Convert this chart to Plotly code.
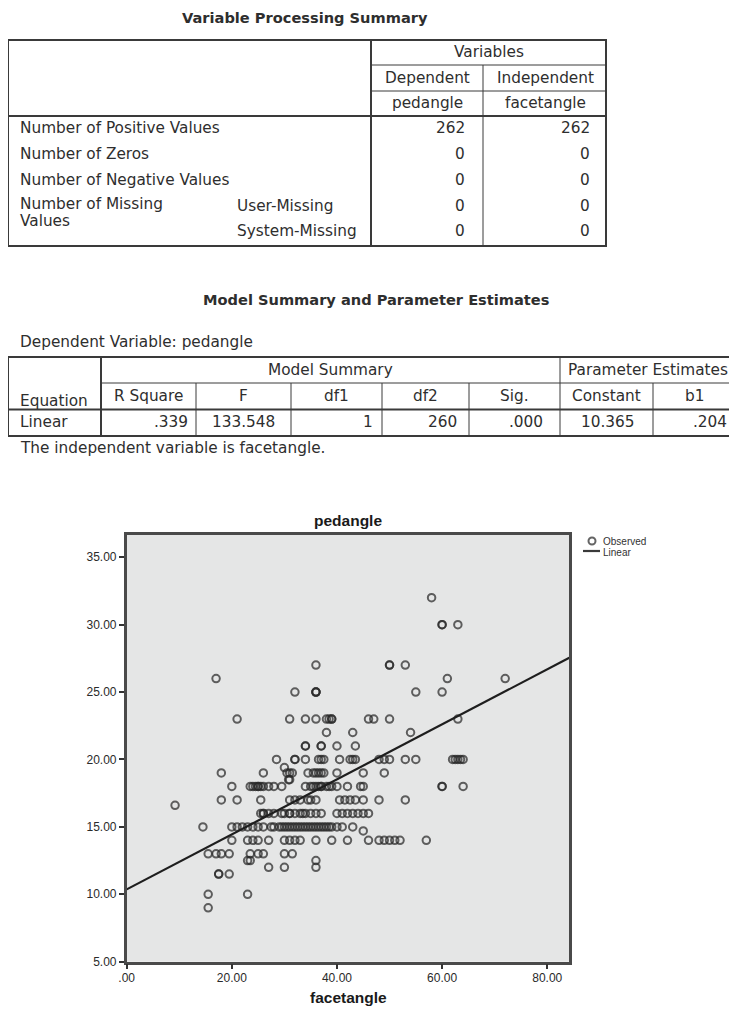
import plotly.graph_objects as go

# ---------------- data ----------------
vps_title = "Variable Processing Summary"
vps_row_labels = ["Number of Positive Values", "Number of Zeros", "Number of Negative Values"]
vps_missing_label = ["Number of Missing", "Values"]
vps_missing_types = ["User-Missing", "System-Missing"]
vps_group_header = "Variables"
vps_roles = ["Dependent", "Independent"]
vps_vars = ["pedangle", "facetangle"]
vps_dependent = [262, 0, 0, 0, 0]
vps_independent = [262, 0, 0, 0, 0]

ms_title = "Model Summary and Parameter Estimates"
ms_subtitle = "Dependent Variable: pedangle"
ms_groups = ["Model Summary", "Parameter Estimates"]
ms_columns = ["R Square", "F", "df1", "df2", "Sig.", "Constant", "b1"]
ms_equation = "Linear"
ms_values = [".339", "133.548", "1", "260", ".000", "10.365", ".204"]
ms_footnote = "The independent variable is facetangle."
constant = 10.365
b1 = 0.204

legend_labels = ["Observed", "Linear"]

# observed points: pedangle levels and facetangle values at each level
ped_levels = [32, 30, 27, 26, 25, 23, 22, 21, 20, 19.4, 19, 18.5, 18, 17, 16.6, 16, 15, 14.7, 14, 13,
              12.5, 12, 11.5, 10, 9]
facet_by_level = [
    [58],
    [60, 60, 63],
    [36, 50, 50, 53],
    [17, 61, 72],
    [32, 36, 36, 36, 55, 60],
    [21, 31, 34, 36, 38, 38.5, 39, 39, 46, 47, 50, 63],
    [38, 43, 54],
    [34, 34, 37, 37, 40, 43.5],
    [28.5, 32, 32, 34, 36.5, 37, 37.5, 40.5, 42.5, 43, 43.5, 48, 49, 50, 53, 55, 62, 62.5, 63, 63.5, 64],
    [30],
    [18, 26, 30.5, 31, 31.5, 34.5, 35.5, 36, 36.5, 37, 37.5, 40, 45, 49],
    [31, 30.8],
    [20, 23.5, 24, 24.5, 25, 25, 25.5, 26, 27, 28, 29.5, 34, 35, 35.5, 36, 36.5, 37, 37, 38, 38.5,
     39, 40, 42, 44.5, 45, 60, 60, 64],
    [18, 21, 25.5, 31, 32, 33, 34.5, 35, 36, 40.5, 41.5, 42.5, 43.5, 45, 48, 53],
    [9.2],
    [25.5, 26, 26, 27, 28, 29.5, 30, 31, 31, 32, 33, 33.5, 34, 35, 36, 37, 40, 41, 42, 43, 44, 45, 46],
    [14.5, 20, 21, 22, 23, 24, 25, 26, 27.5, 28, 29, 29.5, 30, 30.5, 31, 31.5, 32, 32.5, 33, 33.5,
     34, 34.5, 35, 35.5, 36, 36.5, 37, 37.5, 38, 38.5, 39, 40, 41, 43],
    [45],
    [20, 23, 24, 25, 27, 30, 31, 32, 33, 36, 39, 42, 46, 48, 49, 50, 51, 52, 57],
    [15.5, 17, 18, 19.5, 23.5, 25, 26, 30, 31.5],
    [23, 23.5, 36],
    [27, 30, 36],
    [17.5, 17.5, 19.5],
    [15.5, 23],
    [15.5],
]

x_tickvals = [0, 20, 40, 60, 80]
x_ticktext = [".00", "20.00", "40.00", "60.00", "80.00"]
y_tickvals = [5, 10, 15, 20, 25, 30, 35]
y_ticktext = ["5.00", "10.00", "15.00", "20.00", "25.00", "30.00", "35.00"]
x_range = [0, 84.2]
y_range = [5, 36.65]

facetangle = []
pedangle = []
for lvl, xs in zip(ped_levels, facet_by_level):
    for xv in xs:
        facetangle.append(xv)
        pedangle.append(lvl)

# ---------------- figure ----------------
# page has an 8px body margin; figure sits at (8, 8)
OFF = 8
W, H = 737 - OFF, 1032 - OFF
TFONT = "DejaVu Sans"
TCOL = "#2e2e2e"
LCOL = "#3a3a3a"
TS = 15.3

fig = go.Figure()

MARKER = dict(symbol="circle-open", size=7.5, color="rgba(40,40,40,0.72)", line=dict(width=2))
fig.add_trace(go.Scatter(
    x=facetangle, y=pedangle, mode="markers", name=legend_labels[0],
    marker=MARKER, xaxis="x", yaxis="y"))
fig.add_trace(go.Scatter(
    x=x_range, y=[constant + b1 * v for v in x_range], mode="lines", name=legend_labels[1],
    line=dict(color="#1e1e1e", width=2.2), xaxis="x", yaxis="y"))

shapes = []
annotations = []


def hline(y, x0, x1, w=1):
    shapes.append(dict(type="line", xref="x2", yref="y2", x0=x0, x1=x1, y0=y, y1=y,
                       line=dict(color=LCOL, width=w)))


def vline(x, y0, y1, w=1):
    shapes.append(dict(type="line", xref="x2", yref="y2", x0=x, x1=x, y0=y0, y1=y1,
                       line=dict(color=LCOL, width=w)))


def txt(s, x, y, align="left", size=TS, bold=False, font=TFONT, color=TCOL):
    annotations.append(dict(text=("<b>%s</b>" % s) if bold else s, x=x, y=y, xref="x2", yref="y2",
                            xanchor=align, yanchor="middle", showarrow=False,
                            font=dict(family=font, size=size, color=color)))


# ---- Table 1 ----
txt(vps_title, 305, 17, "center", 14.6, True)
shapes.append(dict(type="rect", xref="x2", yref="y2", x0=8, x1=606, y0=40, y1=246,
                   line=dict(color=LCOL, width=2)))
vline(371, 40, 246, 2)
hline(65, 371, 606)
hline(91, 371, 606)
vline(483, 65, 246)
hline(116, 8, 606, 2)
txt(vps_group_header, 489, 52, "center")
txt(vps_roles[0], 427, 78, "center")
txt(vps_roles[1], 545, 78, "center")
txt(vps_vars[0], 427, 103, "center")
txt(vps_vars[1], 545, 103, "center")
row_y = [128, 154, 180, 206, 231]
for lab, yy in zip(vps_row_labels, row_y[:3]):
    txt(lab, 18, yy)
txt(vps_missing_label[0], 18, 204)
txt(vps_missing_label[1], 18, 221)
txt(vps_missing_types[0], 235, 206)
txt(vps_missing_types[1], 235, 231)
for dv, iv, yy in zip(vps_dependent, vps_independent, row_y):
    txt(str(dv), 467, yy, "right")
    txt(str(iv), 592, yy, "right")

# ---- Table 2 ----
txt(ms_title, 376, 299, "center", 14.6, True)
txt(ms_subtitle, 18, 342)
shapes.append(dict(type="rect", xref="x2", yref="y2", x0=8, x1=760, y0=357, y1=436,
                   line=dict(color=LCOL, width=2)))
col_edges = [101, 196, 291, 382, 469, 560, 653, 760]
vline(101, 357, 436, 2)
for cx in col_edges[1:-1]:
    vline(cx, 357 if cx == 560 else 383, 436)
hline(383, 101, 760)
hline(409.5, 8, 760, 2)
txt(ms_groups[0], (101 + 560) / 2, 370, "center")
txt(ms_groups[1], 648, 370, "center")
txt("Equation", 18, 401)
for i, c in enumerate(ms_columns):
    cx = (col_edges[i] + col_edges[i + 1]) / 2 if i < 6 else 694
    txt(c, cx, 396, "center")
txt(ms_equation, 18, 422)
val_right = [190, 277, 375, 459, 545, 637, 729]
for v, xr in zip(ms_values, val_right):
    txt(v, xr, 422, "right")
txt(ms_footnote, 18, 448)

# ---- manual legend (page pixel coords) ----
fig.add_trace(go.Scatter(x=[592], y=[541], mode="markers", marker=dict(MARKER, size=7),
                         xaxis="x2", yaxis="y2", showlegend=False, hoverinfo="skip"))
hline(551, 583, 600, 2.2)
txt(legend_labels[0], 601, 541, "left", 10, False, "Liberation Sans", "#333")
txt(legend_labels[1], 601, 552, "left", 10, False, "Liberation Sans", "#333")

# ---- chart decorations ----
shapes.append(dict(type="rect", xref="x domain", yref="y domain", x0=0, x1=1, y0=0, y1=1,
                   fillcolor="#e5e6e6", line=dict(width=0), layer="below"))
txt("pedangle", 348, 520, "center", 15.5, True, "Liberation Sans", "#1a1a1a")
txt("facetangle", 348, 997, "center", 15.5, True, "Liberation Sans", "#1a1a1a")

px_l, px_r, px_t, px_b = 126.7, 569.3, 535.0, 961.7
axis_common = dict(showgrid=False, zeroline=False, showline=True, linecolor="#4a4a4a",
                   linewidth=2.5, mirror=True, ticks="outside", ticklen=5, tickwidth=2,
                   tickcolor="#333", automargin=False,
                   tickfont=dict(family="Liberation Sans", size=12, color="#2a2a2a"))

fig.update_layout(
    width=W, height=H, margin=dict(l=0, r=0, t=0, b=0, autoexpand=False),
    paper_bgcolor="white", plot_bgcolor="rgba(0,0,0,0)",
    showlegend=False,
    xaxis=dict(domain=[(px_l - OFF) / W, (px_r - OFF) / W], range=x_range, tickvals=x_tickvals,
               ticktext=x_ticktext, anchor="y", ticklabelstandoff=-2, **axis_common),
    yaxis=dict(domain=[1 - (px_b - OFF) / H, 1 - (px_t - OFF) / H], range=y_range,
               tickvals=y_tickvals, ticktext=y_ticktext, anchor="x", **axis_common),
    xaxis2=dict(domain=[0, 1], range=[OFF, OFF + W], visible=False, anchor="y2", fixedrange=True,
                automargin=False),
    yaxis2=dict(domain=[0, 1], range=[OFF + H, OFF], visible=False, anchor="x2", fixedrange=True,
                automargin=False),
    shapes=shapes, annotations=annotations,
)

fig.write_html("out.html")
